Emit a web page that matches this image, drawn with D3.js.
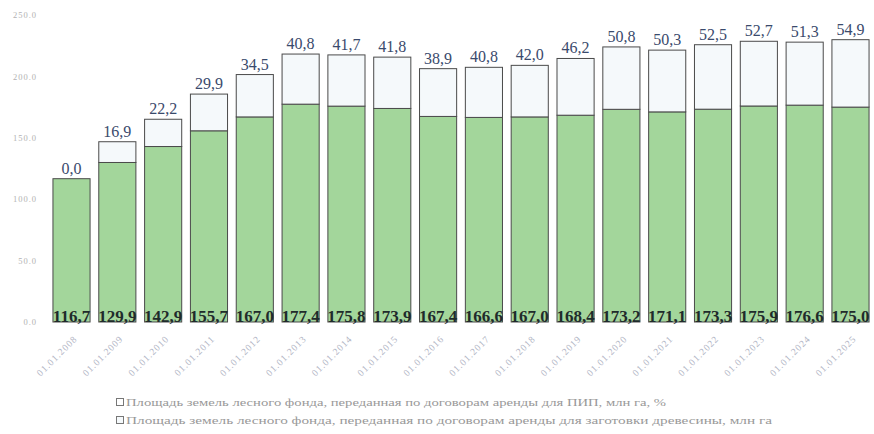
<!DOCTYPE html>
<html>
<head>
<meta charset="utf-8">
<script src="https://cdn.jsdelivr.net/npm/d3@7"></script>
<style>
  body { margin: 0; background: #fff; }
  svg { display: block; }
</style>
</head>
<body>
<div class="graph-container"></div>
<script>
// data
const dates = ['01.01.2008', '01.01.2009', '01.01.2010', '01.01.2011', '01.01.2012', '01.01.2013',
    '01.01.2014', '01.01.2015', '01.01.2016', '01.01.2017', '01.01.2018', '01.01.2019',
    '01.01.2020', '01.01.2021', '01.01.2022', '01.01.2023', '01.01.2024', '01.01.2025'];
const wood = [116.7, 129.9, 142.9, 155.7, 167.0, 177.4, 175.8, 173.9, 167.4, 166.6, 167.0, 168.4,
    173.2, 171.1, 173.3, 175.9, 176.6, 175.0];
const pip = [0.0, 16.9, 22.2, 29.9, 34.5, 40.8, 41.7, 41.8, 38.9, 40.8, 42.0, 46.2,
    50.8, 50.3, 52.5, 52.7, 51.3, 54.9];
const yTicks = [0, 50, 100, 150, 200, 250];
const legendNames = [
    'Площадь земель лесного фонда, переданная по договорам аренды для ПИП, млн га, %',
    'Площадь земель лесного фонда, переданная по договорам аренды для заготовки древесины, млн га'
];

// graph constants
const w = 874;
const h = 434;
const colors = ['#a3d69b', '#f5f9fb'];
const serif = 'Liberation Serif';
const fmt = v => v.toFixed(1).replace('.', ',');

const svg = d3.select('div.graph-container')
    .append('svg')
    .attr('width', w)
    .attr('height', h);

const xScale = d3.scaleBand()
    .domain(dates)
    .range([48.6, 873.4])
    .paddingInner(0.19)
    .paddingOuter(0.095);

const yScale = d3.scaleLinear()
    .domain([0, 250])
    .range([322, 15]);

// y axis (labels only)
const yAxis = d3.axisLeft(yScale)
    .tickValues(yTicks)
    .tickSize(0)
    .tickPadding(0)
    .tickFormat(d => d.toFixed(1));
const gy = svg.append('g')
    .attr('transform', 'translate(37, 0)')
    .call(yAxis);
gy.select('.domain').remove();
gy.attr('font-family', serif).attr('font-size', 8.5);
gy.selectAll('text')
    .attr('fill', '#b2b2b2')
    .attr('letter-spacing', 1);

// x axis (rotated labels)
const xAxis = d3.axisBottom(xScale).tickSize(0).tickPadding(0);
const gx = svg.append('g')
    .attr('transform', 'translate(0, 330)')
    .call(xAxis);
gx.select('.domain').remove();
gx.attr('font-family', serif).attr('font-size', 9.5);
gx.selectAll('text')
    .attr('fill', '#b0b4c4')
    .attr('letter-spacing', 1)
    .attr('text-anchor', 'end')
    .attr('dy', '0.35em')
    .attr('transform', 'translate(4, 7) rotate(-45)');

// green segment
svg.selectAll('rect.wood')
    .data(dates)
    .enter()
    .append('rect')
    .attr('class', 'wood')
    .attr('x', d => xScale(d))
    .attr('width', xScale.bandwidth())
    .attr('y', (d, i) => yScale(wood[i]))
    .attr('height', (d, i) => yScale(0) - yScale(wood[i]))
    .attr('fill', colors[0])
    .attr('stroke', '#4a4a4a')
    .attr('stroke-width', 1);

// white segment
svg.selectAll('rect.pip')
    .data(dates)
    .enter()
    .append('rect')
    .attr('class', 'pip')
    .attr('x', d => xScale(d))
    .attr('width', xScale.bandwidth())
    .attr('y', (d, i) => yScale(wood[i] + pip[i]))
    .attr('height', (d, i) => yScale(wood[i]) - yScale(wood[i] + pip[i]))
    .attr('fill', colors[1])
    .attr('stroke', '#4a4a4a')
    .attr('stroke-width', 1);

// top labels
svg.selectAll('text.top')
    .data(dates)
    .enter()
    .append('text')
    .attr('class', 'top')
    .attr('x', d => xScale(d) + xScale.bandwidth() / 2)
    .attr('y', (d, i) => yScale(wood[i] + pip[i]) - 5)
    .attr('text-anchor', 'middle')
    .attr('fill', '#3a4a6c')
    .attr('font-family', serif)
    .attr('font-size', 16)
    .text((d, i) => fmt(pip[i]));

// bottom labels
svg.selectAll('text.bottom')
    .data(dates)
    .enter()
    .append('text')
    .attr('class', 'bottom')
    .attr('x', d => xScale(d) + xScale.bandwidth() / 2)
    .attr('y', yScale(0))
    .attr('text-anchor', 'middle')
    .attr('fill', '#1f2b2b')
    .attr('font-family', serif)
    .attr('font-weight', 'bold')
    .attr('font-size', 17)
    .text((d, i) => fmt(wood[i]));

// legend
const legend = svg.append('g').attr('transform', 'translate(116, 0)');
const legendY = [406, 424];
const legendLen = [540, 646];
legendNames.forEach((name, i) => {
    legend.append('rect')
        .attr('x', 0.5)
        .attr('y', legendY[i] - 7.5)
        .attr('width', 7)
        .attr('height', 7)
        .attr('fill', i === 0 ? '#fff' : colors[1])
        .attr('stroke', '#777');
    legend.append('text')
        .attr('x', 10)
        .attr('y', legendY[i])
        .attr('fill', '#999')
        .attr('textLength', legendLen[i])
        .attr('lengthAdjust', 'spacingAndGlyphs')
        .attr('font-family', serif)
        .attr('font-size', 11)
        .text(name);
});
</script>
</body>
</html>
